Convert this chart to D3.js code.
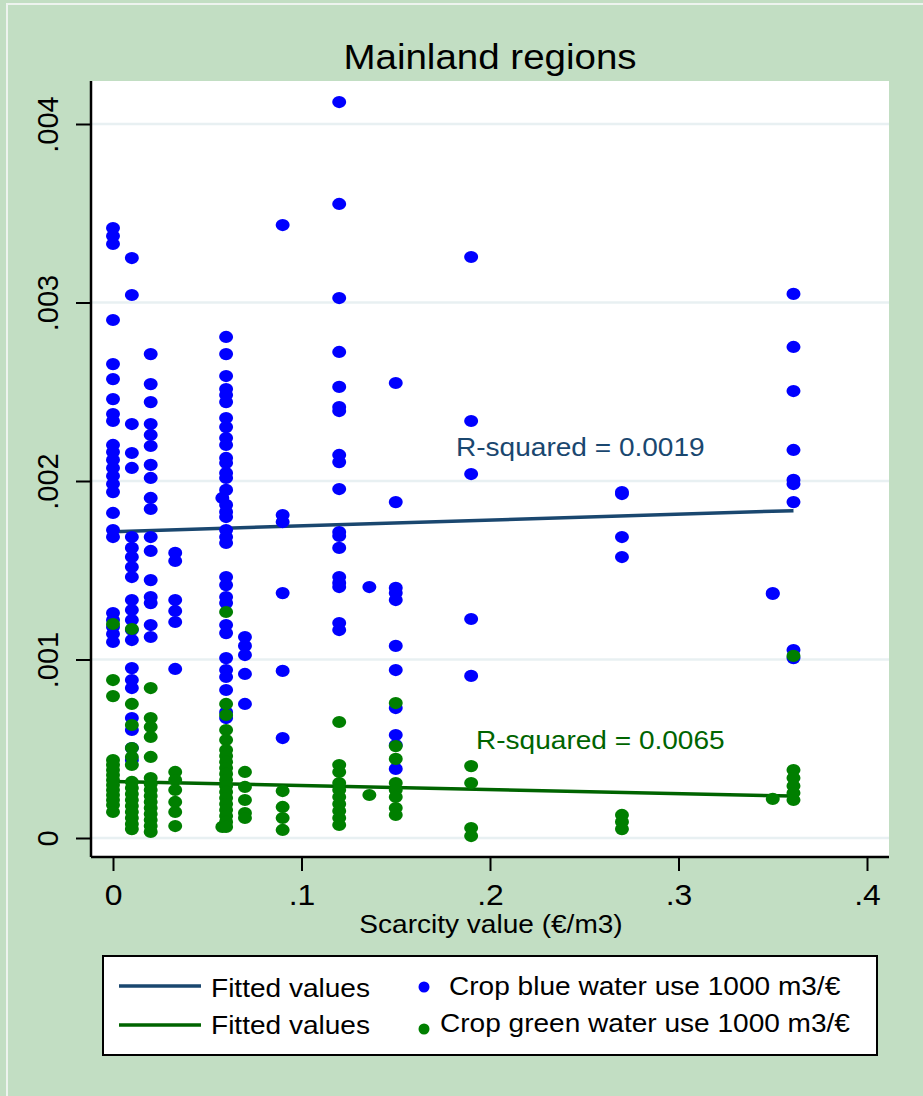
<!DOCTYPE html>
<html>
<head>
<meta charset="utf-8">
<script src="https://cdn.jsdelivr.net/npm/d3@7"></script>
<style>
    body { margin: 0; background: #c2dec3; }
    svg { display: block; }
    text { font-family: "Liberation Sans", Arial, sans-serif; }
</style>
</head>
<body>
<svg id="chart" width="923" height="1096"></svg>
<script>
// scarcity value (€/m3) of each column of points
const scarcity = [0, .01, .02, .033, .058, .06, .07, .09, .12, .136, .15, .19, .27, .35, .361]

// crop blue water use, 1000 m3/€, one list per scarcity column
const blueUse = [
    [.003417, .003372, .003328, .002902, .002655, .002571, .002459, .002375, .002336, .002202, .002162, .002118,
     .002073, .002028, .001983, .001938, .001821, .001725, .001686, .001260, .001221, .001182, .001143, .001098],
    [.003249, .003042, .002319, .002157, .002073, .001686, .001625, .001574, .001518, .001462, .001333, .001277,
     .001221, .001165, .001109, .000952, .000885, .000840, .000672, .000605, .000504, .000437],
    [.002711, .002543, .002442, .002319, .002258, .002196, .002090, .002017, .001905, .001843, .001686, .001608,
     .001445, .001350, .001316, .001193, .001126],
    [.001597, .001552, .001333, .001272, .001210, .000947],
    [.001905],
    [.002807, .002711, .002588, .002515, .002482, .002442, .002353, .002302, .002241, .002202, .002129, .002101,
     .002045, .002017, .001950, .001866, .001826, .001798, .001725, .001686, .001653, .001462, .001417, .001350,
     .001316, .001193, .001148, .001008, .000941, .000902, .000829, .000706, .000672],
    [.001126, .001076, .001025, .000919, .000751],
    [.003434, .001809, .001770, .001372, .000936, .000560],
    [.004123, .003552, .003025, .002723, .002527, .002414, .002392, .002146, .002106, .001955, .001714, .001692,
     .001625, .001462, .001429, .001406, .001204, .001165],
    [.001406],
    [.002549, .001882, .001401, .001372, .001333, .001076, .000941, .000728, .000577, .000521, .000387],
    [.003255, .002336, .002039, .001227, .000908],
    [.001938, .001927, .001686, .001574],
    [.001372, .001367],
    [.003048, .002751, .002504, .002174, .002006, .001983, .001882, .001053, .001008]
]

// crop green water use, 1000 m3/€, same columns
const greenUse = [
    [.001199, .000885, .000795, .000437, .000409, .000381, .000353, .000325, .000297, .000269, .000241, .000213,
     .000185, .000146],
    [.001171, .000751, .000633, .000504, .000454, .000409, .000314, .000280, .000246, .000213, .000179, .000146,
     .000112, .000078, .000050],
    [.000840, .000672, .000622, .000566, .000454, .000336, .000302, .000269, .000235, .000202, .000168, .000134,
     .000101, .000067, .000034],
    [.000370, .000325, .000269, .000202, .000146, .000067],
    [.000062],
    [.001266, .000751, .000689, .000605, .000549, .000493, .000459, .000426, .000392, .000359, .000325, .000291,
     .000258, .000224, .000190, .000157, .000123, .000090, .000062],
    [.000370, .000286, .000213, .000140, .000112],
    [.000263, .000174, .000112, .000045],
    [.000650, .000409, .000370, .000308, .000269, .000230, .000190, .000151, .000112, .000073],
    [.000241],
    [.000756, .000515, .000443, .000308, .000269, .000230, .000168, .000129],
    [.000403, .000308, .000056, .000011],
    [.000129, .000090, .000050],
    [.000219],
    [.001020, .000381, .000336, .000291, .000252, .000213]
]

// fitted lines, read at the ends of the data range
const blueFit = [[0, .001716], [.361, .001834]]
const greenFit = [[0, .000317], [.361, .000235]]
const blueR2 = 'R-squared = 0.0019'
const greenR2 = 'R-squared = 0.0065'

const xTicks = [0, .1, .2, .3, .4]
const xTickLabels = ['0', '.1', '.2', '.3', '.4']
const yTicks = [0, .001, .002, .003, .004]
const yTickLabels = ['0', '.001', '.002', '.003', '.004']

const colorBlue = '#0000ff'
const colorGreen = '#007f00'
const colorBlueFit = '#1a476f'
const colorGreenFit = '#006400'
const stretch = 1.1   // Stata text comes out slightly wide

const svg = d3.select('#chart')

// outer frame line
svg.append('rect')
    .attr('x', 7).attr('y', 4)
    .attr('width', 1000).attr('height', 1200)
    .attr('fill', 'none')
    .attr('stroke', '#edf3ee')
    .attr('stroke-width', 2)

const x = d3.scaleLinear().domain([0, .4]).range([113, 867])
const y = d3.scaleLinear().domain([0, .004]).range([838, 124])

const plot = { left: 91, right: 889, top: 81, bottom: 857 }

svg.append('rect')
    .attr('x', plot.left).attr('y', plot.top)
    .attr('width', plot.right - plot.left)
    .attr('height', plot.bottom - plot.top)
    .attr('fill', '#fff')

// grid
svg.append('g')
    .selectAll('line')
    .data(yTicks)
    .enter()
    .append('line')
    .attr('x1', plot.left).attr('x2', plot.right)
    .attr('y1', (d) => y(d)).attr('y2', (d) => y(d))
    .attr('stroke', '#e8f0f2')
    .attr('stroke-width', 2.5)

function label(parent, px, py, str, size, opts = {}) {
    return parent.append('text')
        .attr('transform', `translate(${px},${py}) scale(${opts.sx || stretch},1)`)
        .attr('text-anchor', opts.anchor || 'start')
        .attr('font-size', size)
        .attr('fill', opts.fill || '#000')
        .text(str)
}

// fitted lines and points, in Stata's plot order
const line = d3.line().x((d) => x(d[0])).y((d) => y(d[1]))

function drawPoints(values, color) {
    const pts = []
    values.forEach((col, i) => col.forEach((v) => pts.push([scarcity[i], v])))
    svg.append('g')
        .selectAll('ellipse')
        .data(pts)
        .enter()
        .append('ellipse')
        .attr('cx', (d) => x(d[0]))
        .attr('cy', (d) => y(d[1]))
        .attr('rx', 7)
        .attr('ry', 6.1)
        .attr('fill', color)
}

svg.append('path').datum(blueFit)
    .attr('d', line).attr('fill', 'none')
    .attr('stroke', colorBlueFit).attr('stroke-width', 3.5)
drawPoints(blueUse, colorBlue)
svg.append('path').datum(greenFit)
    .attr('d', line).attr('fill', 'none')
    .attr('stroke', colorGreenFit).attr('stroke-width', 3.5)
drawPoints(greenUse, colorGreen)

label(svg, 456, 456, blueR2, 25.5, { fill: colorBlueFit })
label(svg, 476, 749, greenR2, 25.5, { fill: colorGreenFit })

// axes
const xAxis = svg.append('g')
    .attr('transform', `translate(0,${plot.bottom})`)
    .call(d3.axisBottom(x).tickValues(xTicks).tickFormat((d, i) => xTickLabels[i]).tickSize(14).tickSizeOuter(0))
xAxis.select('.domain').attr('d', `M${plot.left},0H${plot.right}`).attr('stroke-width', 2.5)
xAxis.selectAll('.tick line').attr('stroke-width', 2)
xAxis.selectAll('.tick text')
    .attr('font-size', 29)
    .attr('font-family', '"Liberation Sans", Arial, sans-serif')
    .attr('y', 0).attr('dy', 0)
    .attr('transform', `translate(0,48) scale(${stretch},1)`)

const yAxis = svg.append('g')
    .attr('transform', `translate(${plot.left},0)`)
    .call(d3.axisLeft(y).tickValues(yTicks).tickFormat((d, i) => yTickLabels[i]).tickSize(15).tickSizeOuter(0))
yAxis.select('.domain').attr('d', `M0,${plot.top}V${plot.bottom}`).attr('stroke-width', 2.5)
yAxis.selectAll('.tick line').attr('stroke-width', 2)
yAxis.selectAll('.tick text')
    .attr('font-size', 29)
    .attr('font-family', '"Liberation Sans", Arial, sans-serif')
    .attr('x', 0).attr('dy', 0)
    .attr('text-anchor', 'middle')
    .attr('transform', 'translate(-33,0) rotate(-90)')

// titles
label(svg, 490, 69, 'Mainland regions', 35, { anchor: 'middle' })
label(svg, 491, 933, 'Scarcity value (€/m3)', 25.5, { anchor: 'middle' })

// legend
const legend = svg.append('g')
legend.append('rect')
    .attr('x', 103).attr('y', 956)
    .attr('width', 774).attr('height', 99)
    .attr('fill', '#fff')
    .attr('stroke', '#000')
    .attr('stroke-width', 2)

const legendRows = [
    { lineColor: colorBlueFit, dotColor: colorBlue, name: 'Crop blue water use 1000 m3/€', ly: 986, ty: 997, dy: 987, nx: 449 },
    { lineColor: colorGreenFit, dotColor: colorGreen, name: 'Crop green water use 1000 m3/€', ly: 1025, ty: 1034, dy: 1029, nx: 440 }
]
legendRows.forEach((r) => {
    legend.append('line')
        .attr('x1', 119).attr('x2', 201)
        .attr('y1', r.ly).attr('y2', r.ly)
        .attr('stroke', r.lineColor).attr('stroke-width', 3.5)
    label(legend, 211, r.ty, 'Fitted values', 25.5)
    legend.append('ellipse')
        .attr('cx', 424).attr('cy', r.dy)
        .attr('rx', 5.5).attr('ry', 5.5)
        .attr('fill', r.dotColor)
    label(legend, r.nx, r.ty - 2, r.name, 25.5)
})
</script>
</body>
</html>
